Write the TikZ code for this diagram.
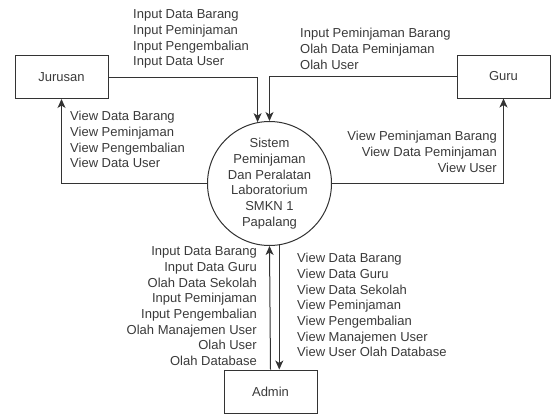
\documentclass[tikz,border=0pt]{standalone}
\usepackage{fontspec}
\setmainfont{Liberation Sans}
\usetikzlibrary{arrows.meta}
\definecolor{garisabu}{HTML}{333333}
\definecolor{teksabu}{HTML}{3A3A3A}
\tikzset{
	entitas/.style={draw=garisabu, line width=1pt, minimum width=93pt, minimum height=43pt, inner sep=0pt, text=teksabu},
	proses/.style={circle, draw=garisabu, line width=1pt, minimum size=124pt, inner sep=0pt, align=center, text=teksabu},
	alir/.style={draw=garisabu, line width=1pt, -{Stealth[length=9pt,width=8pt,inset=2.5pt]}},
	ket/.style={inner sep=0pt, text=teksabu}
}

\begin{document}
\begin{tikzpicture}[x=1pt, y=-1pt, font=\fontsize{13}{15.7}\selectfont]
			%%%%% START %%%%%
			
			\useasboundingbox (0,0) rectangle (551,415);
			
			\node[entitas] (jurusan) at (61.5, 77) {Jurusan};
			\node[entitas] (guru) at (503.5, 76.5) {Guru};
			\node[entitas] (admin) at (270.5, 391.5) {Admin};
			\node[proses] (sistem) at (269.5, 183.5) {Sistem\\Peminjaman\\Dan Peralatan\\Laboratorium\\SMKN 1\\Papalang};
			
			\draw[alir] (jurusan.east) -| (sistem.101);
			\draw[alir] (guru.west) -| (sistem.north);
			\draw[alir] (sistem.west) -| (jurusan.south);
			\draw[alir] (sistem.east) -| (guru.south);
			\draw[alir] (admin.north) -- (sistem.south);
			\draw[alir] (sistem.-81) -- (sistem.-81 |- admin.north);
			
			\node[ket, anchor=north west, align=left] (jurusanMasuk) at (133, 9.5) {Input Data Barang\\Input Peminjaman\\Input Pengembalian\\Input Data User};
			\node[ket, anchor=north west, align=left] (jurusanKeluar) at (70, 111) {View Data Barang\\View Peminjaman\\View Pengembalian\\View Data User};
			\node[ket, anchor=north west, align=left] (guruMasuk) at (300, 28) {Input Peminjaman Barang\\Olah Data Peminjaman\\Olah User};
			\node[ket, anchor=north east, align=right] (guruKeluar) at (497, 131) {View Peminjaman Barang\\View Data Peminjaman\\View User};
			\node[ket, anchor=north east, align=right] (adminMasuk) at (257, 246.5) {Input Data Barang\\Input Data Guru\\Olah Data Sekolah\\Input Peminjaman\\Input Pengembalian\\Olah Manajemen User\\Olah User\\Olah Database};
			\node[ket, anchor=north west, align=left] (adminKeluar) at (297, 253) {View Data Barang\\View Data Guru\\View Data Sekolah\\View Peminjaman\\View Pengembalian\\View Manajemen User\\View User Olah Database};
			
			%%%%% END %%%%%
\end{tikzpicture}
\end{document}
